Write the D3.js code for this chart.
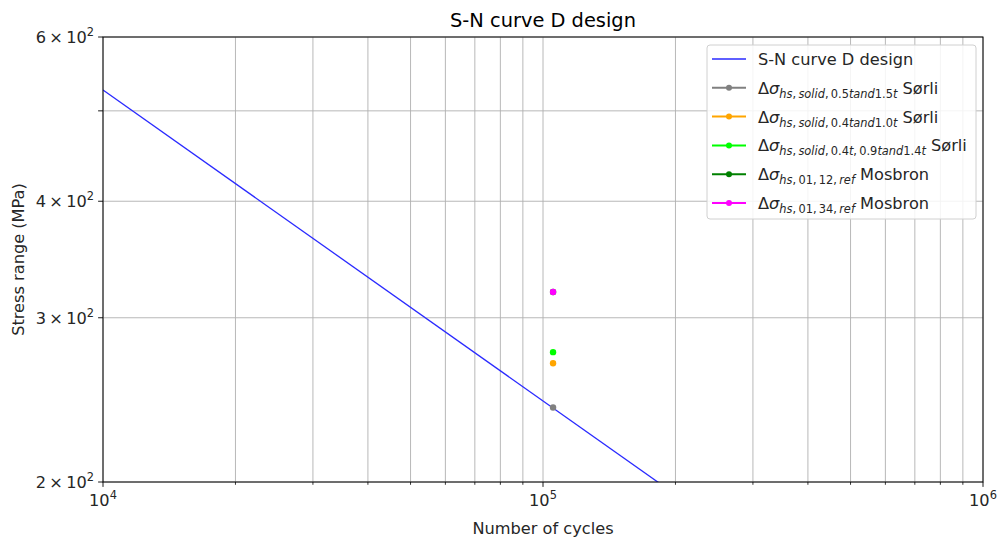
<!DOCTYPE html>
<html>
<head>
<meta charset="utf-8">
<script src="https://cdn.jsdelivr.net/npm/d3@7"></script>
<style>
  body { margin: 0; background: #fff; }
  svg { font-family: "DejaVu Sans", sans-serif; }
</style>
</head>
<body>
<svg id="chart" width="1000" height="542"></svg>
<script>
// DNV curve D (in air), design line endpoints
const curveCycles = [1e4, 1e6];
const curveStress = [526.4, 113.4];

// Hot-spot stress ranges at the evaluated number of cycles
const pointNames = ["grey", "orange", "lime", "green", "magenta"];
const pointCycles = [1.054e5, 1.054e5, 1.054e5, 1.054e5, 1.054e5];
const pointStress = [240.4, 268.1, 275.6, 319.7, 319.7];
const pointColors = ["#808080", "#ffa500", "#00ff00", "#008000", "#ff00ff"];

const legendLabels = [
  { main: "S-N curve D design" },
  { sub: [["hs", 1], [", ", 0], ["solid", 1], [", 0.5", 0], ["tand", 1], ["1.5", 0], ["t", 1]], tail: " Sørli" },
  { sub: [["hs", 1], [", ", 0], ["solid", 1], [", 0.4", 0], ["tand", 1], ["1.0", 0], ["t", 1]], tail: " Sørli" },
  { sub: [["hs", 1], [", ", 0], ["solid", 1], [", 0.4", 0], ["t", 1], [", 0.9", 0], ["tand", 1], ["1.4", 0], ["t", 1]], tail: " Sørli" },
  { sub: [["hs", 1], [", 01, 12, ", 0], ["ref", 1]], tail: " Mosbron" },
  { sub: [["hs", 1], [", 01, 34, ", 0], ["ref", 1]], tail: " Mosbron" }
];

const xTicksMajor = [1e4, 1e5, 1e6];
const xTickExp = ["4", "5", "6"];
const yTicksLabeled = [200, 300, 400, 600];
const yTickMant = ["2", "3", "4", "6"];

const FS = 16.2, SUB = 11.4;
const margin = { left: 103, right: 17, top: 37, bottom: 60 };
const W = 1000, H = 542;
const svg = d3.select("#chart");

const x = d3.scaleLog().domain([1e4, 1e6]).range([margin.left, W - margin.right]);
const y = d3.scaleLog().domain([200, 600]).range([H - margin.bottom, margin.top]);

// grid lines for every decade subdivision
const xGrid = [];
for (let d = 1e4; d < 1e6; d *= 10) for (let k = 1; k <= 9; k++) xGrid.push(d * k);
xGrid.push(1e6);
const yGrid = [200, 300, 400, 500, 600];

svg.append("g").selectAll("line").data(xGrid).join("line")
  .attr("x1", d => x(d)).attr("x2", d => x(d))
  .attr("y1", y(600)).attr("y2", y(200))
  .attr("stroke", "#b0b0b0").attr("stroke-width", 0.9);
svg.append("g").selectAll("line").data(yGrid).join("line")
  .attr("y1", d => y(d)).attr("y2", d => y(d))
  .attr("x1", x(1e4)).attr("x2", x(1e6))
  .attr("stroke", "#b0b0b0").attr("stroke-width", 0.9);

// clip for data
svg.append("clipPath").attr("id", "plotclip").append("rect")
  .attr("x", x(1e4)).attr("y", y(600))
  .attr("width", x(1e6) - x(1e4)).attr("height", y(200) - y(600));

const curve = curveCycles.map((c, i) => [c, curveStress[i]]);
svg.append("path").datum(curve)
  .attr("clip-path", "url(#plotclip)")
  .attr("d", d3.line().x(d => x(d[0])).y(d => y(d[1])))
  .attr("fill", "none").attr("stroke", "#2a2aff").attr("stroke-width", 1.3);

svg.append("g").attr("clip-path", "url(#plotclip)")
  .selectAll("circle").data(pointNames).join("circle")
  .attr("cx", (d, i) => x(pointCycles[i]))
  .attr("cy", (d, i) => y(pointStress[i]))
  .attr("r", 3.2)
  .attr("fill", (d, i) => pointColors[i]);

// axes frame
svg.append("rect")
  .attr("x", x(1e4)).attr("y", y(600))
  .attr("width", x(1e6) - x(1e4)).attr("height", y(200) - y(600))
  .attr("fill", "none").attr("stroke", "#000").attr("stroke-width", 1);

// x ticks
const xAxis = svg.append("g");
xAxis.selectAll("line.minor").data(xGrid.filter(d => !xTicksMajor.includes(d))).join("line")
  .attr("x1", d => x(d)).attr("x2", d => x(d))
  .attr("y1", y(200)).attr("y2", y(200) + 2.8)
  .attr("stroke", "#000").attr("stroke-width", 0.8);
xAxis.selectAll("line.major").data(xTicksMajor).join("line")
  .attr("x1", d => x(d)).attr("x2", d => x(d))
  .attr("y1", y(200)).attr("y2", y(200) + 4.9)
  .attr("stroke", "#000").attr("stroke-width", 0.9);
xTicksMajor.forEach((d, i) => {
  const t = xAxis.append("text").attr("x", x(d)).attr("y", y(200) + 24)
    .attr("text-anchor", "middle").attr("font-size", FS).attr("fill", "#262626");
  t.append("tspan").text("10");
  t.append("tspan").attr("dy", -7).attr("font-size", SUB).text(xTickExp[i]);
});

// y ticks
const yAxis = svg.append("g");
yAxis.selectAll("line").data(yGrid).join("line")
  .attr("x1", x(1e4) - 4.9).attr("x2", x(1e4))
  .attr("y1", d => y(d)).attr("y2", d => y(d))
  .attr("stroke", "#000").attr("stroke-width", 0.9);
yTicksLabeled.forEach((d, i) => {
  const t = yAxis.append("text").attr("x", x(1e4) - 9).attr("y", y(d) + 6)
    .attr("text-anchor", "end").attr("font-size", FS).attr("fill", "#262626");
  t.append("tspan").text(yTickMant[i] + "\u2009×\u200910");
  t.append("tspan").attr("dy", -7).attr("font-size", SUB).text("2");
});

// titles
svg.append("text").attr("x", (x(1e4) + x(1e6)) / 2).attr("y", 27)
  .attr("text-anchor", "middle").attr("font-size", 19.4).attr("fill", "#000")
  .text("S-N curve D design");
svg.append("text").attr("x", (x(1e4) + x(1e6)) / 2).attr("y", 534)
  .attr("text-anchor", "middle").attr("font-size", FS).attr("fill", "#262626")
  .text("Number of cycles");
svg.append("text")
  .attr("transform", `translate(24, ${(y(600) + y(200)) / 2}) rotate(-90)`)
  .attr("text-anchor", "middle").attr("font-size", FS).attr("fill", "#262626")
  .text("Stress range (MPa)");

// legend
const lg = svg.append("g");
lg.append("rect").attr("x", 707).attr("y", 45).attr("width", 269).attr("height", 174)
  .attr("rx", 3).attr("fill", "#fff").attr("fill-opacity", 0.85)
  .attr("stroke", "#d0d0d0").attr("stroke-width", 1);
const legendColors = ["#2a2aff"].concat(pointColors);
legendLabels.forEach((lab, i) => {
  const cy = 59 + i * 28.8;
  lg.append("line").attr("x1", 712).attr("x2", 746).attr("y1", cy).attr("y2", cy)
    .attr("stroke", legendColors[i]).attr("stroke-width", i === 0 ? 1.3 : 2);
  if (i > 0) lg.append("circle").attr("cx", 729).attr("cy", cy).attr("r", 3).attr("fill", legendColors[i]);
  const t = lg.append("text").attr("x", 758).attr("y", cy + 6).attr("font-size", FS).attr("fill", "#262626");
  if (lab.main) { t.text(lab.main); return; }
  t.append("tspan").text("Δ");
  t.append("tspan").attr("font-style", "italic").text("σ");
  lab.sub.forEach((s, k) => {
    const ts = t.append("tspan").attr("font-size", SUB).text(s[0].replace(/ /g, "\u2009"));
    if (s[1]) ts.attr("font-style", "italic");
    if (k === 0) ts.attr("dy", 4);
  });
  t.append("tspan").attr("dy", -4).text(lab.tail);
});
</script>
</body>
</html>
